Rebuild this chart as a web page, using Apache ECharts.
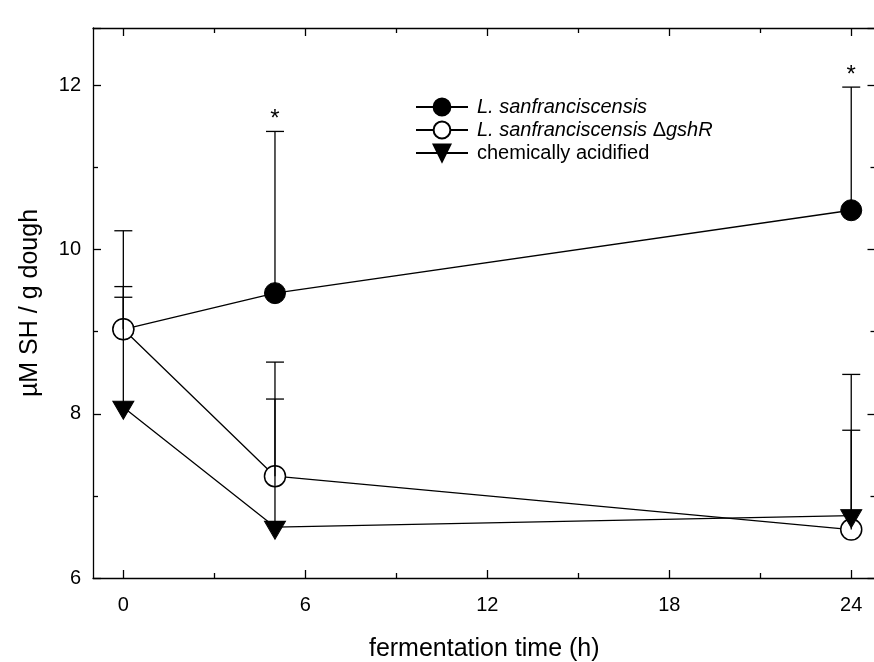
<!DOCTYPE html>
<html><head><meta charset="utf-8">
<script src="https://cdn.jsdelivr.net/npm/echarts@6/dist/echarts.min.js"></script>
<style>html,body{margin:0;padding:0;background:#fff}#c{width:874px;height:662px}</style>
</head><body><div id="c"></div><script>
const times = [0, 5, 24];
const lsMean = [9.03, 9.47, 10.48];
const lsUpper = [10.23, 11.44, 11.98];
const lsSig = ['', '*', '*'];
const gshMean = [9.03, 7.24, 6.59];
const gshUpper = [9.55, 8.63, 8.48];
const chemMean = [8.08, 6.62, 6.76];
const chemUpper = [9.42, 8.18, 7.80];
const xMajorTicks = [0, 6, 12, 18, 24];
const xMinorTicks = [3, 9, 15, 21];
const yTickLabels = [6, 8, 10, 12];
const seriesNames = ['L. sanfranciscensis', 'L. sanfranciscensis \u0394gshR', 'chemically acidified'];

const FONT = "'Liberation Sans', Arial, sans-serif";
const LW = 1.3;
const X_MIN = -1, X_MAX = 24.8, Y_MIN = 6, Y_MAX = 12.7;
const gridBox = {left: 93, top: 28, width: 782.5, height: 550, outerBoundsMode: 'none', containLabel: false};

function pairs(xs, ys) { return xs.map((x, i) => [x, ys[i]]); }

function errSeries(name, mean, upper, sig) {
  const data = times.map((t, i) => [t, mean[i], upper[i]]);
  return {
    type: 'custom', name: name, xAxisIndex: 0, yAxisIndex: 0, z: 4, silent: true,
    data: data,
    renderItem: function (params, api) {
      const p0 = api.coord([api.value(0), api.value(1)]);
      const p1 = api.coord([api.value(0), api.value(2)]);
      const children = [
        {type: 'line', shape: {x1: p0[0], y1: p0[1], x2: p1[0], y2: p1[1]}, style: {stroke: '#000', lineWidth: LW}},
        {type: 'line', shape: {x1: p1[0] - 9, y1: p1[1], x2: p1[0] + 9, y2: p1[1]}, style: {stroke: '#000', lineWidth: LW}}
      ];
      const s = sig ? sig[params.dataIndex] : '';
      if (s) {
        children.push({type: 'text', x: p1[0], y: p1[1] - 12,
          style: {text: s, fontSize: 24, fontFamily: FONT, align: 'center', verticalAlign: 'middle', fill: '#000'}});
      }
      return {type: 'group', children: children};
    }
  };
}

const axisLineStyle = {color: '#000', width: LW};
const chart = echarts.init(document.getElementById('c'), null, {renderer: 'canvas'});
const triPath = 'path://M0,0 L20,0 L10,17 Z';

chart.setOption({
  animation: false,
  backgroundColor: '#fff',
  grid: [
    Object.assign({}, gridBox),
    Object.assign({}, gridBox)
  ],
  xAxis: [
    {type: 'value', gridIndex: 0, position: 'bottom', min: X_MIN, max: X_MAX,
     axisLine: {show: true, onZero: false, lineStyle: axisLineStyle},
     axisTick: {show: true, inside: true, length: 8, customValues: xMajorTicks, lineStyle: axisLineStyle},
     axisLabel: {show: true, customValues: xMajorTicks, fontSize: 20, fontFamily: FONT, color: '#000', margin: 17},
     splitLine: {show: false},
     name: 'fermentation time (h)', nameLocation: 'middle', nameGap: 59,
     nameTextStyle: {fontSize: 25, fontFamily: FONT, color: '#000'}},
    {type: 'value', gridIndex: 0, position: 'top', min: X_MIN, max: X_MAX,
     axisLine: {show: true, onZero: false, lineStyle: axisLineStyle},
     axisTick: {show: true, inside: true, length: 8, customValues: xMajorTicks, lineStyle: axisLineStyle},
     axisLabel: {show: false}, splitLine: {show: false}},
    {type: 'value', gridIndex: 1, position: 'bottom', min: X_MIN, max: X_MAX,
     axisLine: {show: false, onZero: false},
     axisTick: {show: true, inside: true, length: 5, customValues: xMinorTicks, lineStyle: axisLineStyle},
     axisLabel: {show: false}, splitLine: {show: false}},
    {type: 'value', gridIndex: 1, position: 'top', min: X_MIN, max: X_MAX,
     axisLine: {show: false, onZero: false},
     axisTick: {show: true, inside: true, length: 5, customValues: xMinorTicks, lineStyle: axisLineStyle},
     axisLabel: {show: false}, splitLine: {show: false}}
  ],
  yAxis: [
    {type: 'value', gridIndex: 0, position: 'left', min: Y_MIN, max: Y_MAX, interval: 2,
     axisLine: {show: true, onZero: false, lineStyle: axisLineStyle},
     axisTick: {show: true, inside: true, length: 8, lineStyle: axisLineStyle},
     minorTick: {show: true, splitNumber: 2, length: 5, lineStyle: axisLineStyle},
     axisLabel: {show: true, customValues: yTickLabels, fontSize: 20, fontFamily: FONT, color: '#000', margin: 12},
     splitLine: {show: false}, minorSplitLine: {show: false},
     name: '\u00b5M SH / g dough', nameLocation: 'middle', nameGap: 50, nameRotate: 90,
     nameTextStyle: {fontSize: 25, fontFamily: FONT, color: '#000'}},
    {type: 'value', gridIndex: 0, position: 'right', min: Y_MIN, max: Y_MAX, interval: 2,
     axisLine: {show: true, onZero: false, lineStyle: axisLineStyle},
     axisTick: {show: true, inside: true, length: 8, lineStyle: axisLineStyle},
     minorTick: {show: true, splitNumber: 2, length: 5, lineStyle: axisLineStyle},
     axisLabel: {show: false}, splitLine: {show: false}, minorSplitLine: {show: false}},
    {type: 'value', gridIndex: 1, min: Y_MIN, max: Y_MAX, show: false}
  ],
  legend: {
    orient: 'vertical', left: 415, top: 97, padding: 0,
    itemWidth: 52, itemHeight: 21, itemGap: 3,
    data: seriesNames,
    formatter: function (n) {
      if (n === seriesNames[0]) return '{i|L. sanfranciscensis}';
      if (n === seriesNames[1]) return '{i|L. sanfranciscensis }{n|\u0394}{i|gshR}';
      return '{n|' + n + '}';
    },
    textStyle: {
      fontSize: 20, fontFamily: FONT, color: '#000', padding: [0, 0, 0, 4],
      rich: {
        i: {fontStyle: 'italic', fontSize: 20, fontFamily: FONT, color: '#000'},
        n: {fontSize: 20, fontFamily: FONT, color: '#000'}
      }
    }
  },
  series: [
    {type: 'line', name: seriesNames[0], xAxisIndex: 0, yAxisIndex: 0, data: pairs(times, lsMean),
     symbol: 'circle', symbolSize: 21, z: 2,
     lineStyle: {color: '#000', width: LW}, itemStyle: {color: '#000', borderColor: '#000', borderWidth: 1},
     emphasis: {disabled: true}},
    {type: 'line', name: seriesNames[1], xAxisIndex: 0, yAxisIndex: 0, data: pairs(times, gshMean),
     symbol: 'circle', symbolSize: 21, z: 2,
     lineStyle: {color: '#000', width: LW}, itemStyle: {color: '#fff', borderColor: '#000', borderWidth: 1.5},
     emphasis: {disabled: true}},
    {type: 'line', name: seriesNames[2], xAxisIndex: 0, yAxisIndex: 0, data: pairs(times, chemMean),
     symbol: triPath, symbolSize: [21, 18], symbolOffset: [0, 3], z: 2,
     lineStyle: {color: '#000', width: LW}, itemStyle: {color: '#000', borderColor: '#000', borderWidth: 1},
     emphasis: {disabled: true}},
    errSeries('err-ls', lsMean, lsUpper, lsSig),
    errSeries('err-gsh', gshMean, gshUpper, null),
    errSeries('err-chem', chemMean, chemUpper, null)
  ]
});
</script></body></html>
